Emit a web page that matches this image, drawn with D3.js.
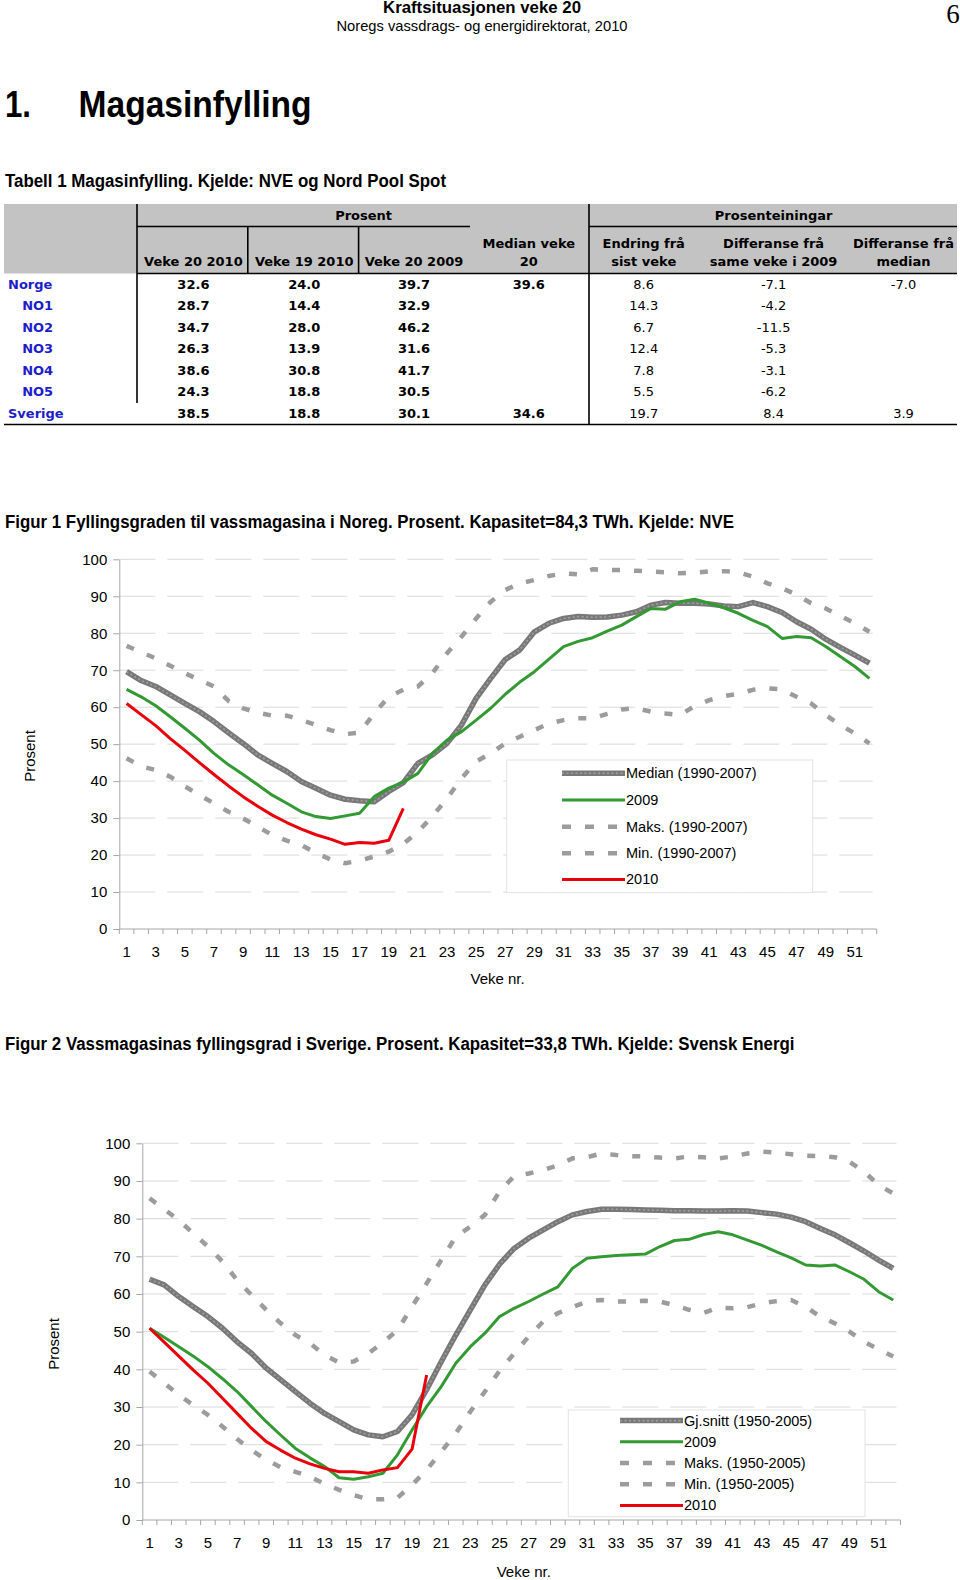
<!DOCTYPE html>
<html><head><meta charset="utf-8">
<script src="https://cdn.jsdelivr.net/npm/d3@7"></script>
<style>body{margin:0;background:#fff} svg{display:block}</style>
</head><body>
<svg id="page" width="960" height="1580"></svg>
<script>
// ---------- DATA ----------
const weeks = d3.range(1, 53);
const xTickLabels = d3.range(1, 52, 2);
const yTicks = [0, 10, 20, 30, 40, 50, 60, 70, 80, 90, 100];

// Figur 1 – Noreg
const noMedian = [69.6,67.2,65.6,63.3,61.0,58.8,56.1,53.1,50.2,47.1,44.8,42.6,39.9,38.1,36.2,35.1,34.7,34.4,37.2,39.6,44.8,47.1,50.2,55.2,62.4,67.8,72.9,75.5,80.4,82.7,84.0,84.5,84.3,84.4,84.9,85.8,87.6,88.3,88.1,88.1,87.9,87.4,87.2,88.3,87.2,85.6,83.1,81.1,78.4,76.2,74.1,71.9];
const no2009 = [64.8,62.8,60.4,57.4,54.3,51.1,47.5,44.4,41.8,39.0,36.2,34.0,31.7,30.4,29.9,30.6,31.3,35.8,38.1,39.7,42.1,47.5,51.1,53.4,56.5,59.7,63.5,66.8,69.6,73.0,76.4,77.8,78.8,80.6,82.2,84.5,86.7,86.5,88.5,89.2,88.1,86.9,85.4,83.5,81.8,78.6,79.1,78.8,76.4,73.7,71.0,67.8];
const noMax = [76.6,74.9,73.2,71.2,69.2,67.4,65.6,61.7,59.7,58.5,57.7,57.7,56.5,55.2,53.8,52.7,53.1,58.3,62.8,64.7,65.6,69.2,74.6,79.1,84.0,88.5,91.7,93.5,94.4,95.5,96.2,95.9,97.3,97.1,97.1,96.9,96.7,96.5,96.2,96.4,96.7,96.8,96.5,95.3,93.5,92.2,90.4,88.1,86.7,84.7,82.7,80.4];
const noMin = [46.2,44.0,43.0,41.2,38.6,36.2,34.0,31.7,29.9,27.7,25.4,23.9,22.7,20.6,18.8,17.8,18.5,19.6,20.9,23.0,26.3,30.5,35.3,40.8,45.3,47.5,50.2,52.0,53.8,55.6,56.5,57.0,57.0,58.2,59.4,59.7,58.8,58.3,57.9,60.3,61.9,63.0,63.6,64.7,65.1,64.8,62.8,61.0,57.9,55.2,52.9,50.2];
const no2010 = [61.0,58.0,55.0,51.5,48.3,45.0,41.8,38.7,35.8,33.2,30.8,28.8,27.0,25.5,24.3,22.9,23.4,23.2,24.0,32.6];
const noLegend = ["Median (1990-2007)", "2009", "Maks. (1990-2007)", "Min. (1990-2007)", "2010"];

// Figur 2 – Sverige
const seMean = [63.9,62.4,59.3,56.6,54.0,50.9,47.3,44.2,40.3,37.2,34.1,31.0,28.3,26.1,23.9,22.6,22.1,23.5,27.9,34.6,42.0,49.1,55.8,62.4,67.9,72.1,74.8,77.0,79.2,81.0,81.9,82.5,82.5,82.4,82.3,82.2,82.1,82.1,82.0,82.0,82.1,82.0,81.6,81.2,80.4,79.2,77.4,75.7,73.6,71.4,69.0,66.8];
const se2009 = [50.9,48.5,46.0,43.5,40.7,37.5,34.1,30.1,26.1,22.5,19.0,16.5,14.2,11.2,10.8,11.5,12.4,17.3,23.9,30.1,35.4,41.6,46.0,49.6,54.0,56.2,58.0,60.0,61.9,66.8,69.5,69.9,70.2,70.4,70.6,72.6,74.2,74.5,75.8,76.5,75.7,74.3,72.9,71.2,69.6,67.7,67.4,67.7,65.9,63.9,60.6,58.4];
const seMax = [85.4,82.5,79.6,76.1,72.6,68.6,63.7,59.7,55.8,52.2,49.1,46.9,43.8,41.8,42.1,44.2,47.1,50.4,56.6,62.8,69.0,75.2,77.9,81.0,87.2,91.3,92.0,92.9,94.2,96.0,96.3,97.3,96.9,96.6,96.5,96.2,96.0,96.5,96.3,96.0,96.5,97.3,97.8,97.5,97.1,96.7,96.6,96.3,95.1,92.5,88.9,86.7];
const seMin = [39.4,36.4,33.2,30.5,27.9,24.8,21.5,18.5,16.0,14.0,12.8,11.5,9.6,8.0,6.6,5.5,5.5,5.9,9.3,13.3,18.1,23.0,28.8,34.1,39.6,44.2,48.7,52.7,54.9,56.5,58.0,58.4,58.0,58.0,58.2,58.0,57.0,55.8,55.0,56.4,56.2,56.5,57.5,58.1,58.4,56.6,54.0,52.2,50.0,47.3,45.3,43.4];
const se2010 = [50.9,47.2,43.5,39.8,36.3,32.3,28.3,24.3,20.8,18.5,16.4,14.9,13.7,12.8,12.8,12.4,13.3,13.9,18.8,38.5];
const seLegend = ["Gj.snitt (1950-2005)", "2009", "Maks. (1950-2005)", "Min. (1950-2005)", "2010"];

// Tabell 1
const tableRowNames = ["Norge", "NO1", "NO2", "NO3", "NO4", "NO5", "Sverige"];
const colVeke20_2010 = [32.6, 28.7, 34.7, 26.3, 38.6, 24.3, 38.5];
const colVeke19_2010 = [24.0, 14.4, 28.0, 13.9, 30.8, 18.8, 18.8];
const colVeke20_2009 = [39.7, 32.9, 46.2, 31.6, 41.7, 30.5, 30.1];
const colMedian20 = [39.6, null, null, null, null, null, 34.6];
const colEndring = [8.6, 14.3, 6.7, 12.4, 7.8, 5.5, 19.7];
const colDiff2009 = [-7.1, -4.2, -11.5, -5.3, -3.1, -6.2, 8.4];
const colDiffMedian = [-7.0, null, null, null, null, null, 3.9];
const colHeaders = [["Veke 20 2010"], ["Veke 19 2010"], ["Veke 20 2009"], ["Median veke", "20"],
                    ["Endring frå", "sist veke"], ["Differanse frå", "same veke i 2009"], ["Differanse frå", "median"]];

// ---------- DRAWING ----------
const SANS = "'Liberation Sans', Arial, Helvetica, sans-serif";
const NARROW = "'Liberation Sans Narrow', 'Liberation Sans', Arial, sans-serif";
const SERIF = "'Liberation Serif', 'Times New Roman', serif";
const TAB = "'DejaVu Sans', Verdana, sans-serif";
const svg = d3.select("#page");

function text(x, y, s, o = {}) {
  const t = svg.append("text").attr("x", x).attr("y", y).attr("dy", "0.35em").text(s)
    .attr("font-family", o.font || SANS).attr("font-size", o.size || 14)
    .attr("font-weight", o.bold ? "bold" : "normal")
    .attr("text-anchor", o.anchor || "start").attr("fill", o.fill || "#000");
  if (o.len) t.attr("textLength", o.len).attr("lengthAdjust", "spacingAndGlyphs");
  return t;
}

// Page header
text(482, 7.5, "Kraftsituasjonen veke 20", {bold: true, size: 16, anchor: "middle", font: NARROW, len: 198});
text(482, 25.5, "Noregs vassdrags- og energidirektorat, 2010", {size: 14.5, anchor: "middle", font: NARROW, len: 291});
text(953, 14, "6", {size: 27, anchor: "middle", font: SERIF});
text(5, 104, "1.", {bold: true, size: 36, font: NARROW, len: 26});
text(78.6, 104, "Magasinfylling", {bold: true, size: 36, font: NARROW, len: 233});
text(5, 181, "Tabell 1 Magasinfylling. Kjelde: NVE og Nord Pool Spot", {bold: true, size: 17.5, font: NARROW, len: 441});

// ---------- Table ----------
const colCenters = [193.4, 304.2, 414, 528.8, 643.7, 773.6, 903.5];
const rowY = [284, 305.4, 327.2, 348.6, 370.2, 391.8, 413.2];
const tbl = svg.append("g");
tbl.append("rect").attr("x", 4).attr("y", 204).attr("width", 953).attr("height", 69.5).attr("fill", "#c3c3c3");
const blk = (x1, y1, x2, y2, w = 1.6) => tbl.append("line").attr("x1", x1).attr("y1", y1).attr("x2", x2).attr("y2", y2)
  .attr("stroke", "#000").attr("stroke-width", w);
blk(137, 204, 137, 403);
blk(589, 204, 589, 424.5);
blk(137, 226.5, 470, 226.5);
blk(589, 226.5, 957, 226.5);
blk(247.8, 226.5, 247.8, 273.5);
blk(358.6, 226.5, 358.6, 273.5);
blk(137, 273.5, 957, 273.5);
blk(4, 424.5, 957, 424.5);
text(363.6, 215.6, "Prosent", {bold: true, size: 13, font: TAB, anchor: "middle"});
text(773.6, 215.6, "Prosenteiningar", {bold: true, size: 13, font: TAB, anchor: "middle"});
colHeaders.forEach((lines, i) => {
  lines.forEach((l, j) => {
    const yy = lines.length === 1 ? 261 : (j === 0 ? 243.6 : 261);
    text(colCenters[i], yy, l, {bold: true, size: 13, font: TAB, anchor: "middle"});
  });
});
const cols = [colVeke20_2010, colVeke19_2010, colVeke20_2009, colMedian20, colEndring, colDiff2009, colDiffMedian];
tableRowNames.forEach((name, r) => {
  const indent = name.startsWith("NO") ? 22.2 : 8;
  text(indent, rowY[r], name, {bold: true, size: 13, font: TAB, fill: "#1e1ec8"});
  cols.forEach((col, c) => {
    const v = col[r];
    if (v === null) return;
    text(colCenters[c], rowY[r], v.toFixed(1), {bold: c < 4, size: 13, font: TAB, anchor: "middle"});
  });
});

// ---------- Charts ----------
const COL = {median: "#787878", medianHi: "#a0a0a0", green: "#339933", red: "#e8000b", dash: "#9c9c9c", grid: "#d9d9d9", axis: "#a6a6a6"};

function drawChart(c) {
  const g = svg.append("g");
  const x = d3.scaleBand().domain(weeks).range([c.x0, c.x1]).padding(0);
  const y = d3.scaleLinear().domain([0, 100]).range([c.yBottom, c.yTop]);
  const cx = w => x(w) + x.bandwidth() / 2;

  // gridlines
  g.append("g").selectAll("line").data(yTicks.filter(t => t > 0)).join("line")
    .attr("x1", c.x0).attr("x2", c.x1 - 4).attr("y1", d => y(d)).attr("y2", d => y(d))
    .attr("stroke", COL.grid).attr("stroke-width", 1).attr("stroke-dasharray", "36,12");

  const line = d3.line().x((d, i) => cx(weeks[i])).y(d => y(d));
  const series = [
    {data: c.max, stroke: COL.dash, w: 4.5, dash: "8,14"},
    {data: c.min, stroke: COL.dash, w: 4.5, dash: "8,14"},
    {data: c.median, stroke: COL.median, w: 5.5},
    {data: c.median, stroke: COL.medianHi, w: 1.6, dash: "2,2.5"},
    {data: c.y2009, stroke: COL.green, w: 3},
    {data: c.y2010, stroke: COL.red, w: 3}
  ];
  series.forEach(s => {
    g.append("path").datum(s.data).attr("d", line).attr("fill", "none")
      .attr("stroke", s.stroke).attr("stroke-width", s.w)
      .attr("stroke-dasharray", s.dash || null).attr("stroke-linejoin", "round");
  });

  // y axis
  const ya = g.append("g").attr("transform", `translate(${c.x0},0)`)
    .call(d3.axisLeft(y).tickValues(yTicks).tickSize(6).tickSizeOuter(0).tickPadding(6));
  ya.select(".domain").attr("stroke", COL.axis);
  ya.selectAll(".tick line").attr("stroke", COL.axis);
  ya.selectAll("text").attr("font-family", SANS).attr("font-size", 15).attr("fill", "#000");

  // x axis
  const xa = g.append("g").attr("transform", `translate(0,${c.yBottom})`)
    .call(d3.axisBottom(x).tickValues(xTickLabels).tickSize(0).tickPadding(17.5));
  xa.select(".domain").remove();
  xa.selectAll("text").attr("font-family", SANS).attr("font-size", 15).attr("fill", "#000");
  g.append("line").attr("x1", c.x0).attr("x2", c.x1).attr("y1", c.yBottom).attr("y2", c.yBottom)
    .attr("stroke", COL.axis);
  const bounds = weeks.map(w => x(w)).concat([c.x1]);
  g.append("g").selectAll("line").data(bounds).join("line")
    .attr("x1", d => d).attr("x2", d => d).attr("y1", c.yBottom).attr("y2", c.yBottom + 5)
    .attr("stroke", COL.axis);

  // axis titles
  text(c.xTitle[0], c.xTitle[1], "Veke nr.", {size: 15, anchor: "middle"});
  text(0, 0, "Prosent", {size: 15, anchor: "middle"})
    .attr("transform", `translate(${c.yTitle[0]},${c.yTitle[1]}) rotate(-90)`);

  // legend
  const L = c.legend;
  const lg = svg.append("g");
  lg.append("rect").attr("x", L.x).attr("y", L.y).attr("width", L.w).attr("height", L.h)
    .attr("fill", "#fff").attr("stroke", "#e3e3e3");
  const ls = [
    [{stroke: COL.median, w: 5.5}, {stroke: COL.medianHi, w: 1.6, dash: "2,2.5"}],
    [{stroke: COL.green, w: 3}],
    [{stroke: COL.dash, w: 4.5, dash: "9,14"}],
    [{stroke: COL.dash, w: 4.5, dash: "9,14"}],
    [{stroke: COL.red, w: 3}]
  ];
  c.legendNames.forEach((nm, i) => {
    const yy = L.rows[i];
    ls[i].forEach(st => {
      lg.append("line").attr("x1", L.sx0).attr("x2", L.sx1).attr("y1", yy).attr("y2", yy)
        .attr("stroke", st.stroke).attr("stroke-width", st.w).attr("stroke-dasharray", st.dash || null);
    });
    const t = text(L.tx, yy, nm, {size: 14.5});
    lg.node().appendChild(t.node());
  });
}

text(5, 521.8, "Figur 1 Fyllingsgraden til vassmagasina i Noreg. Prosent. Kapasitet=84,3 TWh. Kjelde: NVE", {bold: true, size: 17.5, font: NARROW, len: 729});
drawChart({
  x0: 119.3, x1: 876.7, yTop: 559.3, yBottom: 929,
  median: noMedian, y2009: no2009, max: noMax, min: noMin, y2010: no2010,
  legendNames: noLegend,
  xTitle: [497.6, 979], yTitle: [30.2, 756],
  legend: {x: 506.7, y: 760, w: 306, h: 132.7, rows: [773.3, 800, 826.7, 853.2, 879.4], sx0: 562, sx1: 625, tx: 626}
});

text(5, 1043.6, "Figur 2 Vassmagasinas fyllingsgrad i Sverige. Prosent. Kapasitet=33,8 TWh. Kjelde: Svensk Energi", {bold: true, size: 17.5, font: NARROW, len: 789.5});
drawChart({
  x0: 142.3, x1: 900.5, yTop: 1143.3, yBottom: 1520,
  median: seMean, y2009: se2009, max: seMax, min: seMin, y2010: se2010,
  legendNames: seLegend,
  xTitle: [523.8, 1572], yTitle: [53.4, 1344],
  legend: {x: 568.3, y: 1410, w: 296.7, h: 106.7, rows: [1420.6, 1441.8, 1463, 1484.2, 1505.4], sx0: 620, sx1: 683, tx: 684}
});
</script>
</body></html>
